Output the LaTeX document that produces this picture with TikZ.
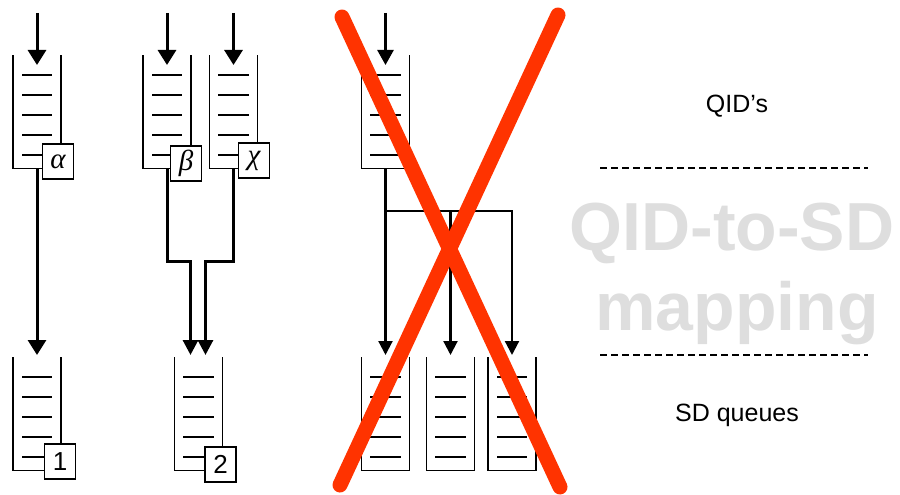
\documentclass[tikz,border=0pt]{standalone}
\usepackage{fontspec}
\setmainfont{Liberation Sans}
\newfontfamily\greekserif{Liberation Serif}
\usetikzlibrary{arrows.meta,calc}
\definecolor{crossred}{RGB}{255,51,0}
\definecolor{ghost}{RGB}{222,222,222}
\tikzset{
  wall/.style={line width=1.7pt,line cap=rect},
  tag/.style={draw,line width=1.1pt,fill=white,minimum width=31pt,minimum height=35pt,inner sep=0pt,font=\fontsize{26}{26}\selectfont},
  gtag/.style={tag,font=\fontsize{29}{29}\selectfont\greekserif\itshape},
  feed/.style={line width=3pt,-{Triangle[width=18pt,length=15pt]}},
  fanarr/.style={line width=2.2pt,-{Triangle[width=14pt,length=14pt]}},
  sep/.style={line width=2pt,dash pattern=on 7pt off 4pt},
  lbl/.style={font=\fontsize{25}{25}\selectfont,anchor=base},
  big/.style={font=\fontsize{68}{68}\selectfont\bfseries,text=ghost,anchor=base},
  queue/.pic={
    \draw[wall] (0,0) -- (0,112.5) -- (48,112.5) -- (48,0);
    \foreach \yy in {19,39,59,79,99} \draw[wall] (9.5,\yy) -- (38.5,\yy);
    \coordinate (-src) at (24,-43);
    \coordinate (-tip) at (24,9);
    \coordinate (-in) at (24,-3);
    \coordinate (-out) at (24,112.5);
  }
}
\begin{document}
\begin{tikzpicture}[x=1pt,y=-1pt]
\useasboundingbox (0,0) rectangle (900,495);
% top queues
\pic (qa) at (13,56) {queue};
\pic (qb) at (143,56) {queue};
\pic (qc) at (209.5,56) {queue};
\pic (qx) at (361.5,56) {queue};
% bottom queues
\pic (q1) at (13,358) {queue};
\pic (q2) at (174.5,358) {queue};
\pic (q3) at (361.5,358) {queue};
\pic (q4) at (426.5,358) {queue};
\pic (q5) at (488,358) {queue};
% tags
\node[gtag] (ta) at (58,161.5) {α};
\node[gtag] (tb) at (186,163.5) {β};
\node[gtag] (tc) at (254,160.5) {χ};
\node[tag] (t1) at (60,461.5) {1};
\node[tag] (t2) at (220.5,464.5) {2};
% input arrows
\foreach \q in {qa,qb,qc} \draw[feed] (\q-src) -- (\q-tip);
\draw[line width=2.6pt,-{Triangle[width=16pt,length=15pt]}] (qx-src) -- (qx-tip);
% alpha -> 1
\draw[feed] (qa-out) -- (q1-in);
% beta, chi -> 2
\coordinate (q2-inL) at (190.5,355);
\coordinate (q2-inR) at (205.5,355);
\coordinate (m2) at (198,261);
\draw[feed,-{Triangle[width=15pt,length=15pt]}] (qb-out) -- (qb-out |- m2) -| (q2-inL);
\draw[feed,-{Triangle[width=15pt,length=15pt]}] (qc-out) -- (qc-out |- m2) -| (q2-inR);
% crossed-out fan
\coordinate (bus) at (450,211);
\draw[fanarr] (qx-out) -- (q3-in);
\draw[fanarr] (qx-out |- bus) -| (q4-in);
\draw[fanarr] (qx-out |- bus) -| (q5-in);
% red cross
\draw[crossred,line width=15pt,line cap=round] (342,17) -- (560,487);
\draw[crossred,line width=15pt,line cap=round] (558,15) -- (340,485);
% right side labels
\node[lbl] (qids) at (737,112) {QID’s};
\draw[sep] (600,168) -- (868,168);
\node[big] (g1) at (732,250) {QID-to-SD};
\node[big] (g2) at (737,330) {mapping};
\draw[sep] (600,355) -- (868,355);
\node[lbl] (sdq) at (737,421) {SD queues};
\end{tikzpicture}
\end{document}
